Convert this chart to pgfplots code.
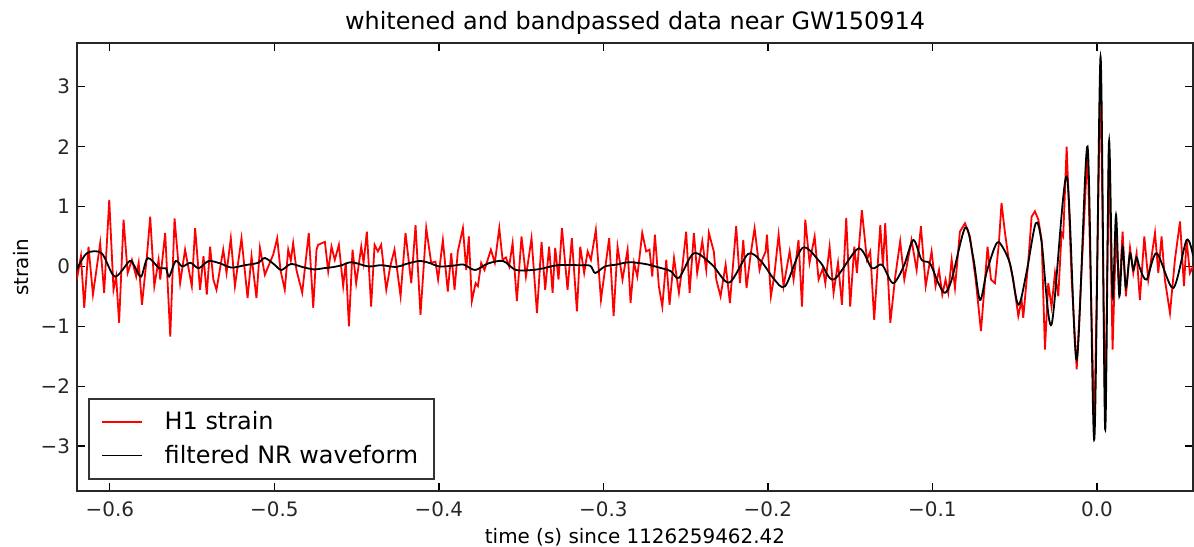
\documentclass[border=0pt]{standalone}
\usepackage{fontspec}
\setmainfont{DejaVu Sans}
\usepackage{pgfplots}
\pgfplotsset{compat=1.18}
\begin{document}
\begin{tikzpicture}
\path[use as bounding box] (-38.5bp,-28bp) rectangle (558.5bp,245.5bp);
\begin{axis}[
  at={(0,0)}, anchor=south west,
  scale only axis, width=558bp, height=224bp,
  xmin=-0.62, xmax=0.0584, ymin=-3.75, ymax=3.73,
  xtick={-0.6,-0.5,-0.4,-0.3,-0.2,-0.1,0},
  xticklabels={−0.6,−0.5,−0.4,−0.3,−0.2,−0.1,0.0},
  ytick={-3,-2,-1,0,1,2,3},
  yticklabels={−3,−2,−1,0,1,2,3},
  tick label style={font=\fontsize{10}{12}\selectfont, text=black!85},
  xticklabel style={yshift=-2bp},
  tick align=inside, major tick length=4bp,
  tick style={black, line width=0.6bp},
  axis line style={black!85, line width=0.9bp},
  title={whitened and bandpassed data near GW150914},
  title style={font=\fontsize{12}{14}\selectfont, yshift=-5bp},
  xlabel={time (s) since 1126259462.42},
  ylabel={strain},
  label style={font=\fontsize{10}{12}\selectfont},
  xlabel style={yshift=1bp},
  ylabel style={yshift=-1bp},
  legend style={at={(0.0099,0.0246)}, anchor=south west,
    font=\fontsize{12}{14}\selectfont, draw=black!80, line width=0.9bp,
    inner xsep=6bp, inner ysep=4.5bp, row sep=2bp, cells={anchor=west},
    /tikz/every odd column/.append style={column sep=9bp}},
  legend image code/.code={\draw[#1, line width=0.9bp] (0bp,0bp) -- (20bp,0bp);},
]
\addplot[red, line width=0.9bp] table {
-0.6201 -0.22
-0.6176 0.17
-0.6156 -0.69
-0.6130 0.33
-0.6103 -0.47
-0.6059 0.39
-0.6035 -0.44
-0.6004 1.11
-0.5978 -0.39
-0.5962 -0.17
-0.5944 -0.94
-0.5917 0.78
-0.5892 -0.11
-0.5866 0.11
-0.5840 -0.17
-0.5825 0.06
-0.5805 -0.64
-0.5775 0.17
-0.5755 0.83
-0.5730 -0.33
-0.5704 0.11
-0.5694 -0.22
-0.5664 0.56
-0.5633 -1.17
-0.5607 0.80
-0.5573 -0.28
-0.5543 0.28
-0.5502 -0.33
-0.5482 0.64
-0.5452 -0.39
-0.5431 0.17
-0.5411 -0.47
-0.5391 0.33
-0.5371 -0.22
-0.5352 -0.39
-0.5311 0.28
-0.5291 -0.11
-0.5265 0.47
-0.5240 -0.33
-0.5200 0.47
-0.5163 -0.53
-0.5139 0.17
-0.5109 -0.53
-0.5088 0.31
-0.5058 -0.14
-0.5007 0.20
-0.4983 0.47
-0.4963 -0.06
-0.4937 -0.39
-0.4916 0.28
-0.4900 0.10
-0.4886 0.39
-0.4866 -0.06
-0.4831 -0.44
-0.4791 0.56
-0.4764 -0.69
-0.4744 0.28
-0.4734 0.36
-0.4693 0.41
-0.4673 -0.08
-0.4653 0.33
-0.4633 0.11
-0.4608 0.36
-0.4582 -0.33
-0.4566 0.06
-0.4547 -1.00
-0.4525 0.28
-0.4503 -0.28
-0.4472 0.33
-0.4458 0.06
-0.4438 0.58
-0.4412 -0.67
-0.4391 0.36
-0.4371 0.25
-0.4351 0.36
-0.4320 -0.39
-0.4296 0.00
-0.4270 0.28
-0.4233 -0.50
-0.4203 0.56
-0.4168 -0.28
-0.4142 0.69
-0.4112 -0.81
-0.4077 0.64
-0.4047 0.06
-0.4021 0.08
-0.4005 -0.22
-0.3976 0.44
-0.3946 -0.42
-0.3925 0.22
-0.3905 -0.39
-0.3885 0.25
-0.3854 0.64
-0.3834 -0.06
-0.3818 0.50
-0.3800 -0.58
-0.3777 -0.28
-0.3763 -0.33
-0.3743 0.06
-0.3723 -0.06
-0.3684 0.28
-0.3660 0.06
-0.3633 0.64
-0.3613 0.11
-0.3593 0.15
-0.3573 0.00
-0.3552 0.39
-0.3526 -0.58
-0.3498 0.50
-0.3471 -0.17
-0.3437 0.47
-0.3404 -0.78
-0.3376 0.41
-0.3354 -0.39
-0.3330 0.33
-0.3309 -0.44
-0.3293 0.31
-0.3273 -0.22
-0.3252 0.64
-0.3218 -0.39
-0.3192 0.47
-0.3161 -0.75
-0.3141 0.33
-0.3117 -0.11
-0.3096 0.25
-0.3076 0.11
-0.3046 0.61
-0.3015 -0.56
-0.2985 0.06
-0.2965 0.47
-0.2938 -0.83
-0.2914 0.33
-0.2884 -0.22
-0.2853 0.28
-0.2835 -0.61
-0.2814 0.06
-0.2794 -0.17
-0.2764 0.56
-0.2740 0.25
-0.2720 0.28
-0.2703 -0.17
-0.2687 0.53
-0.2663 -0.33
-0.2642 -0.67
-0.2618 0.11
-0.2598 -0.64
-0.2571 0.14
-0.2541 -0.44
-0.2520 0.00
-0.2497 0.58
-0.2476 -0.44
-0.2450 0.56
-0.2430 -0.11
-0.2399 0.42
-0.2375 -0.06
-0.2359 0.56
-0.2329 0.25
-0.2314 -0.22
-0.2288 -0.50
-0.2257 0.03
-0.2231 -0.61
-0.2193 0.67
-0.2170 -0.28
-0.2150 0.44
-0.2130 -0.36
-0.2105 0.20
-0.2081 0.64
-0.2051 -0.06
-0.2035 0.11
-0.2014 0.25
-0.2006 0.53
-0.1982 -0.50
-0.1962 -0.17
-0.1935 0.53
-0.1905 -0.33
-0.1868 0.25
-0.1844 -0.22
-0.1814 0.44
-0.1793 -0.67
-0.1773 0.78
-0.1747 0.06
-0.1716 0.50
-0.1692 -0.22
-0.1666 -0.03
-0.1651 -0.28
-0.1625 0.33
-0.1601 -0.44
-0.1574 0.06
-0.1550 -0.64
-0.1524 0.81
-0.1500 -0.67
-0.1475 0.33
-0.1459 -0.11
-0.1429 0.94
-0.1398 0.11
-0.1378 0.25
-0.1354 -0.89
-0.1317 0.69
-0.1301 0.00
-0.1287 0.72
-0.1256 -0.94
-0.1226 -0.17
-0.1196 0.42
-0.1171 -0.22
-0.1127 0.44
-0.1096 -0.06
-0.1070 0.67
-0.1041 -0.33
-0.1005 0.25
-0.0981 -0.33
-0.0960 -0.06
-0.0940 -0.47
-0.0920 -0.22
-0.0904 -0.44
-0.0883 0.11
-0.0863 -0.36
-0.0833 0.58
-0.0802 0.72
-0.0772 0.50
-0.0737 -0.22
-0.0705 -1.08
-0.0685 -0.39
-0.0665 0.33
-0.0644 -0.22
-0.0620 -0.28
-0.0596 0.39
-0.0580 1.06
-0.0559 0.56
-0.0539 0.17
-0.0509 -0.22
-0.0478 -0.83
-0.0458 -0.56
-0.0448 -0.86
-0.0418 0.06
-0.0397 0.83
-0.0377 0.92
-0.0356 0.78
-0.0336 0.44
-0.0316 -1.39
-0.0296 -0.28
-0.0276 -0.67
-0.0255 -0.11
-0.0235 -0.50
-0.0215 0.56
-0.0205 0.50
-0.0184 2.00
-0.0154 -0.20
-0.0123 -1.72
-0.0057 1.95
-0.0016 -2.75
0.0022 3.30
0.0050 -2.60
0.0073 2.00
0.0095 -1.39
0.0116 0.56
0.0136 -0.44
0.0156 0.58
0.0176 -0.50
0.0201 0.31
0.0221 -0.11
0.0241 0.22
0.0261 -0.56
0.0288 0.50
0.0312 -0.22
0.0353 0.56
0.0373 -0.11
0.0393 0.50
0.0413 -0.22
0.0444 -0.78
0.0474 0.11
0.0505 0.75
0.0529 -0.33
0.0545 0.44
0.0565 -0.11
0.0585 0.00
};
\addlegendentry{H1 strain}
\addplot[black, line width=0.9bp, smooth, tension=0.5] table {
-0.6201 -0.05
-0.6140 0.22
-0.6050 0.22
-0.5970 -0.17
-0.5880 0.09
-0.5850 0.00
-0.5810 -0.17
-0.5770 0.14
-0.5700 -0.03
-0.5660 -0.03
-0.5640 -0.17
-0.5600 0.09
-0.5560 0.00
-0.5510 0.06
-0.5460 -0.03
-0.5400 0.09
-0.5330 0.05
-0.5260 -0.02
-0.5180 0.02
-0.5100 0.06
-0.5058 0.14
-0.5000 0.03
-0.4957 -0.06
-0.4900 0.04
-0.4830 -0.01
-0.4760 -0.05
-0.4700 -0.03
-0.4640 -0.01
-0.4590 0.02
-0.4530 0.07
-0.4430 0.00
-0.4350 0.02
-0.4260 -0.01
-0.4200 0.04
-0.4120 0.09
-0.4060 0.06
-0.4000 0.00
-0.3920 0.01
-0.3850 0.03
-0.3780 -0.06
-0.3700 0.05
-0.3610 0.09
-0.3530 -0.06
-0.3400 -0.05
-0.3280 0.02
-0.3150 0.02
-0.3080 0.01
-0.3050 -0.11
-0.2990 0.00
-0.2920 0.03
-0.2845 0.07
-0.2745 0.04
-0.2660 -0.02
-0.2590 -0.08
-0.2540 -0.19
-0.2450 0.22
-0.2340 0.03
-0.2235 -0.27
-0.2120 0.21
-0.2040 0.08
-0.1966 -0.20
-0.1895 -0.33
-0.1790 0.31
-0.1682 0.07
-0.1600 -0.22
-0.1450 0.30
-0.1368 -0.03
-0.1307 0.03
-0.1240 -0.28
-0.1175 0.00
-0.1116 0.44
-0.1066 0.11
-0.1015 0.05
-0.0964 -0.28
-0.0924 -0.44
-0.0883 -0.22
-0.0800 0.65
-0.0752 0.15
-0.0711 -0.56
-0.0671 -0.10
-0.0620 0.33
-0.0590 0.39
-0.0529 0.05
-0.0478 -0.64
-0.0428 -0.10
-0.0372 0.72
-0.0336 0.40
-0.0276 -0.97
-0.0184 1.50
-0.0123 -1.56
-0.0057 2.00
-0.0016 -2.89
0.0022 3.50
0.0050 -2.72
0.0073 2.08
0.0095 -0.50
0.0116 0.86
0.0136 -0.50
0.0156 0.33
0.0176 -0.36
0.0201 0.22
0.0221 -0.06
0.0241 0.15
0.0261 -0.03
0.0302 -0.22
0.0363 0.22
0.0464 -0.36
0.0545 0.44
0.0585 0.17
};
\addlegendentry{filtered NR waveform}
\end{axis}
\end{tikzpicture}
\end{document}
